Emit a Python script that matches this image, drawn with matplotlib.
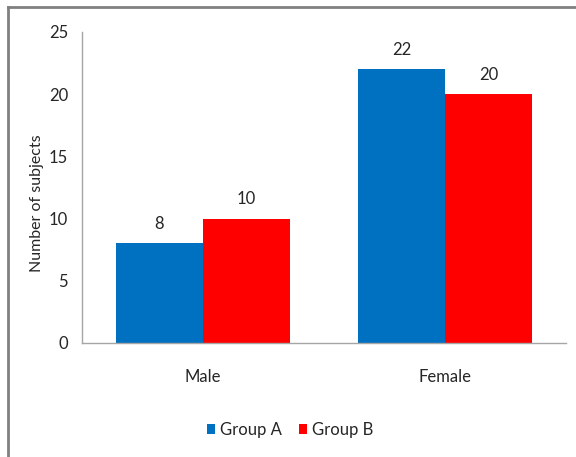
import matplotlib.pyplot as plt
from matplotlib.lines import Line2D
import numpy as np

plt.rcParams['font.family'] = ['Lato', 'DejaVu Sans']

categories = ['Male', 'Female']
groups = ['Group A', 'Group B']
group_a = [8, 22]
group_b = [10, 20]
colors = ['#0070C0', '#FF0000']
text_col = '#262626'

fig = plt.figure(figsize=(5.76, 4.57), dpi=100)
ax = fig.add_axes([0.1424, 0.2495, 0.8402, 0.6805])

x = np.arange(len(categories))
width = 0.36
for i, (vals, col, name) in enumerate(zip([group_a, group_b], colors, groups)):
    pos = x + (i - 0.5) * width
    bars = ax.bar(pos, vals, width, color=col, label=name)
    for b, v in zip(bars, vals):
        ax.text(b.get_x() + b.get_width() / 2, v + 0.9, str(v),
                ha='center', va='bottom', fontsize=12, color=text_col)

ax.set_xlim(-0.5, 1.5)
ax.set_ylim(0, 25)
ax.set_yticks(range(0, 26, 5))
ax.set_xticks(x)
ax.set_xticklabels(categories)
ax.tick_params(axis='both', length=0, labelsize=12, colors=text_col)
ax.tick_params(axis='y', pad=10)
ax.tick_params(axis='x', pad=19)
ax.set_ylabel('Number of subjects', fontsize=11.5, color=text_col)
ax.yaxis.set_label_coords(-0.078, 0.45)

for s in ['top', 'right']:
    ax.spines[s].set_visible(False)
for s in ['left', 'bottom']:
    ax.spines[s].set_color('#A6A6A6')
    ax.spines[s].set_linewidth(1.0)

ax.legend(loc='center', bbox_to_anchor=(290 / 576, 1 - 430 / 457),
          bbox_transform=fig.transFigure, ncol=2, frameon=False,
          fontsize=12, handlelength=0.5, handleheight=0.6,
          handletextpad=0.3, columnspacing=1.0, labelcolor=text_col)

# chart frame (top and left edges)
fig.add_artist(Line2D([8 / 576, 1.0], [1 - 7 / 457, 1 - 7 / 457],
                      transform=fig.transFigure, color='#808080', lw=2))
fig.add_artist(Line2D([8 / 576, 8 / 576], [0, 1 - 7 / 457],
                      transform=fig.transFigure, color='#808080', lw=2))

fig.savefig('out.png', dpi=100)
